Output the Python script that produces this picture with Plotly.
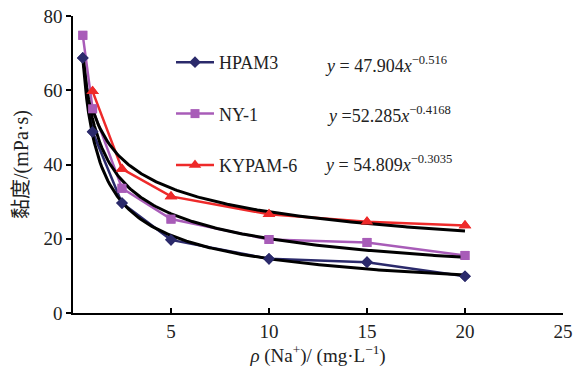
import numpy as np
import plotly.graph_objects as go

# data
hpam3_x = [0.5, 1, 2.5, 5, 10, 15, 20]
hpam3_y = [68.7, 48.8, 29.6, 19.7, 14.6, 13.7, 9.9]
ny1_x = [0.5, 1, 2.5, 5, 10, 15, 20]
ny1_y = [74.8, 55.0, 33.6, 25.3, 19.8, 19.0, 15.5]
kypam_x = [1, 2.5, 5, 10, 15, 20]
kypam_y = [59.7, 38.8, 31.4, 26.6, 24.6, 23.6]

names = ["HPAM3", "NY-1", "KYPAM-6"]
colors = ["#2B2A6B", "#A85CB8", "#EE2A2A"]
symbols = ["diamond", "square", "triangle-up"]
msizes = [9, 9, 11]

# power-law fits shown on the chart: y = a * x^b
fit_a = [47.904, 52.285, 54.809]
fit_b = [-0.516, -0.4168, -0.3035]
fit_x0 = [0.5, 0.5, 1.0]
fit_x1 = [20, 20, 20]
eq_texts = [
    "<i>y</i> = 47.904<i>x</i><sup>−0.516</sup>",
    "<i>y</i> =52.285<i>x</i><sup>−0.4168</sup>",
    "<i>y</i> = 54.809<i>x</i><sup>−0.3035</sup>",
]

xs = [hpam3_x, ny1_x, kypam_x]
ys = [hpam3_y, ny1_y, kypam_y]

font_serif = "Liberation Serif, Times New Roman, Noto Sans CJK SC, serif"

L, R, T, B = 73, 563, 16, 313
W, H = 575, 369

fig = go.Figure()
for i in range(3):
    fig.add_trace(go.Scatter(
        x=xs[i], y=ys[i], mode="lines+markers", name=names[i],
        legendgroup=names[i],
        line=dict(color=colors[i], width=2.5),
        marker=dict(symbol=symbols[i], size=msizes[i], color=colors[i]),
    ))
for i in range(3):
    fx = np.linspace(fit_x0[i], fit_x1[i], 200)
    fy = fit_a[i] * fx ** fit_b[i]
    fig.add_trace(go.Scatter(
        x=fx, y=fy, mode="lines", showlegend=False,
        line=dict(color="black", width=3), hoverinfo="skip",
    ))
for i in range(3):
    fig.add_trace(go.Scatter(
        x=xs[i], y=ys[i], mode="markers", showlegend=False,
        marker=dict(symbol=symbols[i], size=msizes[i], color=colors[i]),
    ))

eq_y = [64, 114, 163]
eq_x = [323, 325, 322]
for i in range(3):
    fig.add_annotation(
        text=eq_texts[i], xref="paper", yref="paper",
        x=(eq_x[i] - L) / (R - L), y=1 - (eq_y[i] - T) / (B - T),
        xanchor="left", yanchor="middle", showarrow=False,
        font=dict(family=font_serif, size=18, color="#222"),
    )

fig.update_layout(
    width=W, height=H,
    margin=dict(l=L, r=W - R, t=T, b=H - B),
    paper_bgcolor="white", plot_bgcolor="white",
    font=dict(family=font_serif, size=18, color="#222"),
    showlegend=True,
    legend=dict(
        x=(171 - L) / (R - L), y=1 - (44 - T) / (B - T),
        xanchor="left", yanchor="top", itemwidth=38,
        bgcolor="rgba(0,0,0,0)", tracegroupgap=25,
        font=dict(family=font_serif, size=18, color="#222"),
    ),
    xaxis=dict(
        range=[0, 25], tickvals=[5, 10, 15, 20, 25], automargin=False,
        showline=True, linecolor="black", linewidth=1.5,
        ticks="inside", ticklen=5, tickcolor="black", tickwidth=1.5,
        showgrid=False, zeroline=False,
        title=dict(text="<i>ρ</i> (Na<sup>+</sup>)/ (mg·L<sup>−1</sup>)", standoff=8,
                   font=dict(family=font_serif, size=19)),
        tickfont=dict(family=font_serif, size=19),
    ),
    yaxis=dict(
        range=[0, 80], tickvals=[0, 20, 40, 60, 80], automargin=False,
        showline=True, linecolor="black", linewidth=1.5,
        ticks="outside", ticklen=5, tickcolor="black", tickwidth=1.5,
        showgrid=False, zeroline=False,
        title=dict(text="黏度/(mPa·s)", standoff=9,
                   font=dict(family=font_serif, size=20)),
        tickfont=dict(family=font_serif, size=19),
    ),
)

fig.write_html("out.html", config={"displayModeBar": False},
               post_script="document.body.style.margin='0';")
